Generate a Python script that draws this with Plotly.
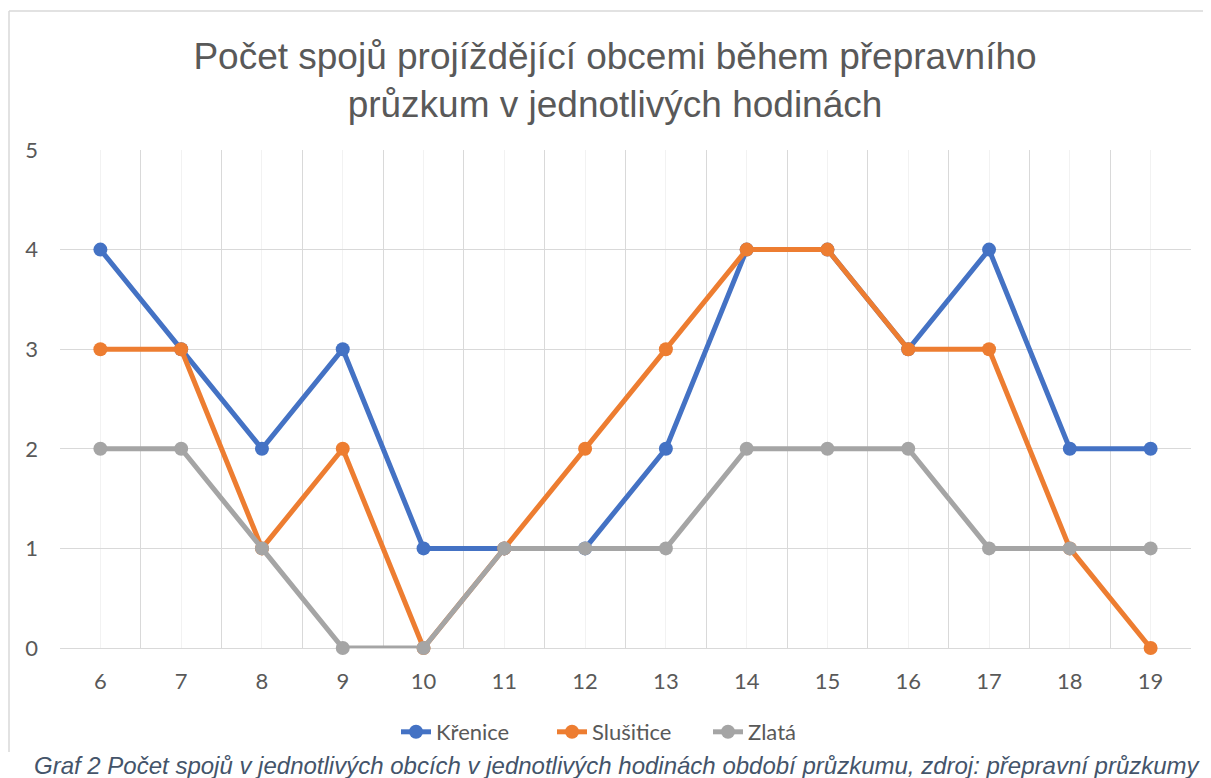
import plotly.graph_objects as go

hours = [6, 7, 8, 9, 10, 11, 12, 13, 14, 15, 16, 17, 18, 19]
krenice = [4, 3, 2, 3, 1, 1, 1, 2, 4, 4, 3, 4, 2, 2]
slusitice = [3, 3, 1, 2, 0, 1, 2, 3, 4, 4, 3, 3, 1, 0]
zlata = [2, 2, 1, 0, 0, 1, 1, 1, 2, 2, 2, 1, 1, 1]

series = [("Křenice", krenice, "#4472C4"),
          ("Slušitice", slusitice, "#ED7D31"),
          ("Zlatá", zlata, "#A5A5A5")]

OFF = 8  # page body margin
W, H = 1211 - OFF, 778 - OFF
# reference plot area: x 60..1191, y 150..648
ML = 60 - OFF
MR = W - (1191 - OFF)
MT = 150 - OFF
MB = H - (648 - OFF)

fig = go.Figure()
for name, vals, col in series:
    fig.add_trace(go.Scatter(
        x=hours, y=vals, name=name, mode="lines+markers",
        line=dict(color=col, width=5),
        marker=dict(color=col, size=14),
        cliponaxis=False,
    ))

pw = W - ML - MR
ph = H - MT - MB
def px2x(p):
    return (p - OFF - ML) / pw
def py2y(p):
    return (H - MB - (p - OFF)) / ph

fig.update_layout(
    width=W, height=H,
    margin=dict(l=ML, r=MR, t=MT, b=MB, autoexpand=False),
    paper_bgcolor="white", plot_bgcolor="white",
    title=dict(
        text="Počet spojů projíždějící obcemi během přepravního<br>průzkum v jednotlivých hodinách",
        x=(615 - OFF) / W, xanchor="center", y=1 - (69 - OFF) / H, yanchor="middle",
        font=dict(family="Liberation Sans, Arial, sans-serif", size=37, color="#595959"),
    ),
    xaxis=dict(
        range=[5.5, 19.5], tick0=6, dtick=1, tickmode="linear",
        showgrid=True, gridcolor="#F2F2F2", gridwidth=1,
        minor=dict(tick0=5.5, dtick=1, showgrid=True, gridcolor="#D9D9D9", gridwidth=1.3),
        showline=False, zeroline=False, ticks="",
        tickfont=dict(family="Lato, Open Sans, sans-serif", size=22, color="#595959"),
        ticklabelstandoff=18,
    ),
    yaxis=dict(
        range=[0, 5], dtick=1, showgrid=True, gridcolor="#D9D9D9", gridwidth=1.3,
        zeroline=True, zerolinecolor="#D9D9D9", zerolinewidth=1.3,
        showline=False, ticks="",
        tickfont=dict(family="Lato, Open Sans, sans-serif", size=22, color="#595959"),
        ticklabelstandoff=21,
    ),
    legend=dict(
        orientation="h", xanchor="left", yanchor="middle",
        x=px2x(396), y=py2y(732),
        font=dict(family="Lato, Open Sans, sans-serif", size=22, color="#595959"),
        traceorder="normal", entrywidth=111, entrywidthmode="pixels",
    ),
    showlegend=True,
)

# chart border (left and top)
fig.add_shape(type="line", xref="paper", yref="paper",
              x0=px2x(9), x1=px2x(9), y0=py2y(11), y1=py2y(752),
              line=dict(color="#D9D9D9", width=1.5))
fig.add_shape(type="line", xref="paper", yref="paper",
              x0=px2x(9), x1=px2x(1215), y0=py2y(11), y1=py2y(11),
              line=dict(color="#D9D9D9", width=1.5))

fig.add_annotation(
    text="Graf 2 Počet spojů v jednotlivých obcích v jednotlivých hodinách období průzkumu, zdroj: přepravní průzkumy",
    xref="paper", yref="paper", x=px2x(617), y=py2y(765), xanchor="center", yanchor="middle",
    showarrow=False, bgcolor="white",
    font=dict(family="Liberation Sans, Arial, sans-serif", size=24, color="#44546A", style="italic"),
)

fig.write_html("out.html")
